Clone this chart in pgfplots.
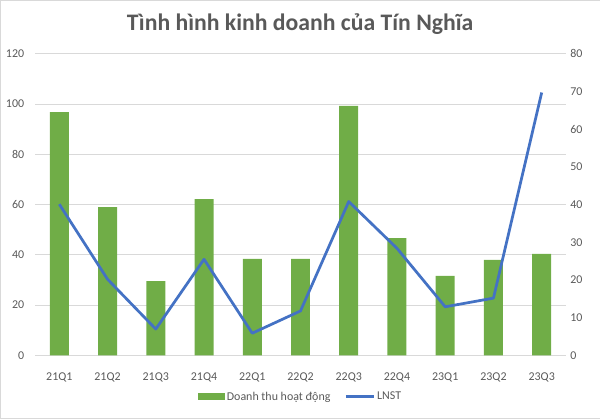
\documentclass[border=0pt]{standalone}
\usepackage{fontspec}
\setmainfont{Carlito}
\usepackage{pgfplots}
\pgfplotsset{compat=1.18}
\definecolor{barg}{HTML}{70AD47}
\definecolor{lineb}{HTML}{4472C4}
\definecolor{txt}{HTML}{595959}
\definecolor{grd}{HTML}{D9D9D9}

\pgfplotsset{
  tnbase/.style={
    at={(35bp,62.5bp)}, anchor=south west,
    scale only axis, width=531bp, height=302bp,
    xmin=-0.5, xmax=10.5, ymin=0,
    major tick length=0pt,
    every tick label/.append style={font=\fontsize{12}{14}\selectfont, text=txt},
    /pgf/number format/assume math mode=true,
  }
}

\begin{document}
\begin{tikzpicture}
\path[use as bounding box, draw=grd] (0,0) rectangle (600bp,418bp);
\node[font=\bfseries\fontsize{23.8}{27}\selectfont, text=txt] at (300bp,394bp)
  {Tình hình kinh doanh của Tín Nghĩa};

\begin{axis}[tnbase,
  ymax=120, ytick={0,20,...,120},
  xtick={0,...,10},
  xticklabels={21Q1,21Q2,21Q3,21Q4,22Q1,22Q2,22Q3,22Q4,23Q1,23Q2,23Q3},
  axis y line*=left, axis x line*=bottom,
  y axis line style={draw=none},
  x axis line style={grd, line width=0.75pt},
  ymajorgrids, grid style={grd, line width=0.75pt},
  yticklabel style={xshift=-7.5bp},
  xticklabel style={yshift=-14bp},
  ybar, bar width=19bp,
  legend style={at={(0.5,-0.137)}, anchor=center, draw=none,
    font=\fontsize{12}{14}\selectfont, text=txt, legend columns=2,
    /tikz/every even column/.append style={column sep=12bp}},
]
\addplot[fill=barg, draw=none,
  legend image code/.code={\fill[barg] (0bp,-3.5bp) rectangle (27bp,3.5bp);}]
  coordinates {(0,96.8) (1,59.0) (2,29.6) (3,62.2) (4,38.4) (5,38.4)
               (6,99.2) (7,46.7) (8,31.6) (9,38.0) (10,40.4)};
\addlegendentry{Doanh thu hoạt động}
\addlegendimage{legend image code/.code={\draw[lineb, line width=2.75pt] (0bp,0bp) -- (28bp,0bp);}}
\addlegendentry{LNST}
\end{axis}

\begin{axis}[tnbase,
  ymax=80, ytick={0,10,...,80},
  axis y line*=right, axis x line=none,
  y axis line style={draw=none},
  yticklabel style={xshift=1bp},
]
\addplot[lineb, line width=2.75pt, line join=round, mark=none]
  coordinates {(0,40.1) (1,20.2) (2,7.0) (3,25.5) (4,5.9) (5,11.8)
               (6,40.8) (7,28.4) (8,12.9) (9,15.2) (10,69.7)};
\end{axis}
\end{tikzpicture}
\end{document}
